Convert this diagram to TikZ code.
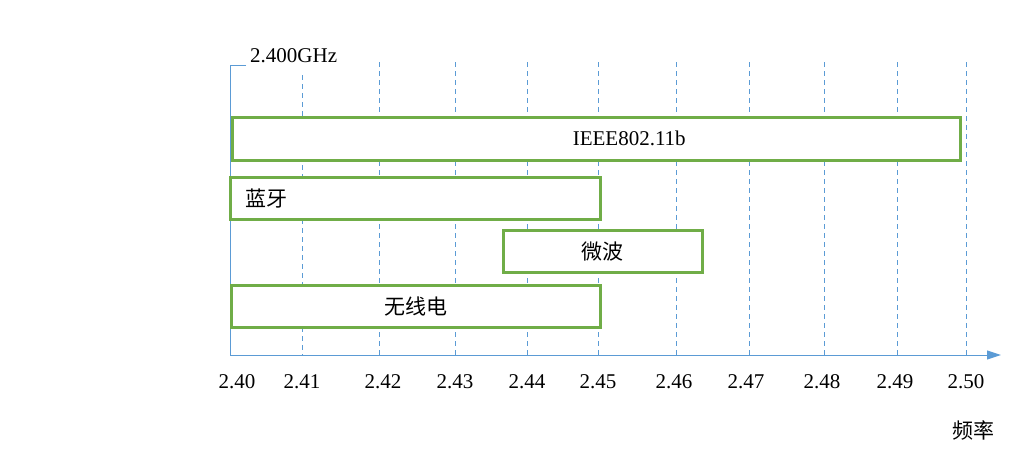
\documentclass[tikz,border=0pt]{standalone}
\usepackage{fontspec}
\setmainfont{Liberation Serif}
\newfontfamily\cjk{Noto Sans CJK SC}
\usetikzlibrary{arrows.meta}
\definecolor{axisblue}{HTML}{5B9BD5}
\definecolor{bandgreen}{HTML}{70AD47}
\tikzset{
  axisline/.style={axisblue, line width=1pt},
  gridline/.style={axisblue, line width=1pt, dash pattern=on 5pt off 4pt},
  band/.style={draw=bandgreen, fill=white, line width=2.5pt, line join=miter, anchor=north west, inner sep=0pt},
  lbl/.style={font=\fontsize{21}{23}\selectfont, inner sep=0pt}
}
\begin{document}
\begin{tikzpicture}[x=1pt, y=-1pt, line join=round, >={Triangle[length=14pt, width=9pt]}]
  \useasboundingbox (0,0) rectangle (1029,450);
  % grid lines at each tick
  \foreach \xx/\yy in {302/75, 379/62, 455/62, 527/62, 598/62, 676/62, 749/62, 824/62, 897/62, 966/62}
    \draw[gridline] (\xx,\yy) -- (\xx,355);
  % axes
  \coordinate (o) at (230,355);
  \coordinate (top) at (230,65);
  \coordinate (tick) at (246,65);
  \coordinate (xend) at (1001,355);
  \draw[axisline] (tick) -- (top) -- (o);
  \draw[axisline, ->] (o) -- (xend);
  \node[lbl, anchor=south west] (ghz) at (250,63) {2.400GHz};
  \foreach \v/\xx in {2.40/237, 2.41/302, 2.42/383, 2.43/455, 2.44/527, 2.45/598, 2.46/674, 2.47/746, 2.48/822, 2.49/895, 2.50/966}
    \node[lbl] (t\v) at (\xx,382) {\v};
  \node[lbl] (freq) at (973,430) {\cjk 频率};
  % bands
  \node[band, minimum width=728pt, minimum height=43pt] (ieee) at (231,116) {};
  \node[lbl] (ieeetxt) at ([xshift=33pt]ieee.center) {IEEE802.11b};
  \node[band, minimum width=370pt, minimum height=42pt] (bt) at (229,176) {};
  \node[lbl, anchor=west] (bttxt) at ([xshift=16pt]bt.west) {\cjk 蓝牙};
  \node[band, minimum width=199pt, minimum height=42pt] (mw) at (502,229) {};
  \node[lbl] (mwtxt) at (mw.center) {\cjk 微波};
  \node[band, minimum width=369pt, minimum height=42pt] (radio) at (230,284) {};
  \node[lbl] (radiotxt) at (radio.center) {\cjk 无线电};
\end{tikzpicture}
\end{document}
